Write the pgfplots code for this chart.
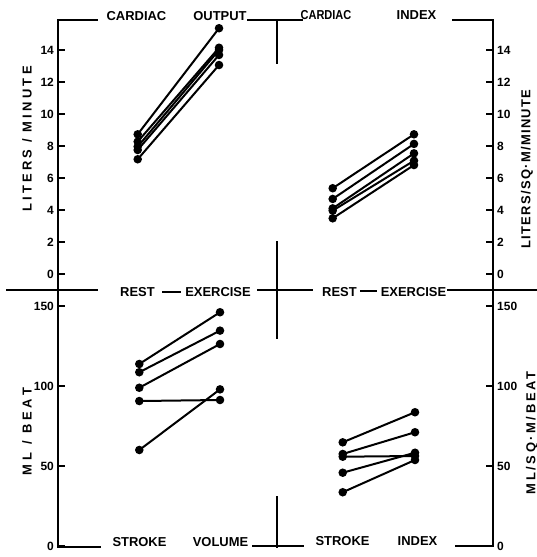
\documentclass[border=0pt]{standalone}
\usepackage{fontspec}
\setmainfont{Liberation Sans}
\usepackage{pgfplots}
\pgfplotsset{compat=1.18}
\newcommand{\lbl}{\bfseries\fontsize{13}{13}\selectfont}
\begin{document}
\begin{tikzpicture}[x=1bp,y=1bp]
\useasboundingbox (0,0) rectangle (537,557);
\pgfplotsset{
  panel/.style={scale only axis, anchor=south west, xtick=\empty,
    axis line style={draw=none}, major tick length=7bp,
    ytick style={line width=2.4bp, black},
    /pgf/number format/assume math mode=true,
    yticklabel style={font=\bfseries\fontsize{12}{12}\selectfont, inner sep=4bp},
    clip=false},
  subj/.style={black, line width=2bp, mark=*, mark size=3.2bp, mark options={solid}},
}
% ---- Cardiac output
\begin{axis}[panel, at={(58bp,267bp)}, width=219bp, height=270bp,
  xmin=-0.980, xmax=1.713, ymin=-1, ymax=15.875, ytick pos=left, ytick align=inside, ytick={0,2,...,14}]
\addplot[subj] coordinates {(0,8.73) (1,15.36)};
\addplot[subj] coordinates {(0,8.27) (1,14.14)};
\addplot[subj] coordinates {(0,7.96) (1,14.0)};
\addplot[subj] coordinates {(0,7.75) (1,13.69)};
\addplot[subj] coordinates {(0,7.17) (1,13.06)};
\end{axis}
% ---- Cardiac index
\begin{axis}[panel, at={(277bp,267bp)}, width=216bp, height=270bp,
  xmin=-0.685, xmax=1.972, ymin=-1, ymax=15.875, ytick pos=right, ytick align=inside, ytick={0,2,...,14}]
\addplot[subj] coordinates {(0,5.36) (1,8.73)};
\addplot[subj] coordinates {(0,4.69) (1,8.13)};
\addplot[subj] coordinates {(0,4.10) (1,7.54)};
\addplot[subj] coordinates {(0,3.96) (1,7.08)};
\addplot[subj] coordinates {(0,3.48) (1,6.81)};
\end{axis}
% ---- Stroke volume
\begin{axis}[panel, at={(58bp,11bp)}, width=219bp, height=256bp,
  xmin=-1.007, xmax=1.706, ymin=0, ymax=160, ytick pos=left, ytick align=inside, ytick={0,50,100,150}]
\addplot[subj] coordinates {(0,113.75) (1,146.1)};
\addplot[subj] coordinates {(0,108.6) (1,134.6)};
\addplot[subj] coordinates {(0,98.9) (1,126.25)};
\addplot[subj] coordinates {(0,90.6) (1,91.25)};
\addplot[subj] coordinates {(0,60.0) (1,97.9)};
\end{axis}
% ---- Stroke index
\begin{axis}[panel, at={(277bp,11bp)}, width=216bp, height=256bp,
  xmin=-0.909, xmax=2.079, ymin=0, ymax=160, ytick pos=right, ytick align=inside, ytick={0,50,100,150}]
\addplot[subj] coordinates {(0,64.8) (1,83.6)};
\addplot[subj] coordinates {(0,57.5) (1,71.1)};
\addplot[subj] coordinates {(0,55.8) (1,56.25)};
\addplot[subj] coordinates {(0,45.8) (1,58.3)};
\addplot[subj] coordinates {(0,33.6) (1,53.75)};
\end{axis}
% ---- frame lines
\begin{scope}[line width=2.6bp, line cap=rect]
\draw (58,537)--(97,537);
\draw (248,537)--(302,537);
\draw (453,537)--(493,537);
\draw (58,537)--(58,10);
\draw (493,537)--(493,11);
\draw (7,267)--(97,267);
\draw (258,267)--(312,267);
\draw (448,267)--(537,267);
\draw (163,265)--(180,265);
\draw (361,266)--(376,266);
\draw (277,537)--(277,494);
\draw (277,315)--(277,219);
\draw (277,60)--(277,10);
\draw (58,10)--(100,10);
\draw (253,11)--(303,11);
\draw (456,11)--(493,11);
\end{scope}
% ---- texts
\begin{scope}[every node/.style={inner sep=0pt, anchor=base, font=\lbl}]
\node at (136.5,536.3) {CARDIAC};
\node at (220,536.3) {OUTPUT};
\node[xscale=0.85] at (326,537.5) {CARDIAC};
\node at (416.5,537.5) {INDEX};
\node at (137.5,260) {REST};
\node at (218,260) {EXERCISE};
\node at (339.5,260) {REST};
\node at (413.5,260) {EXERCISE};
\node at (139.5,10.3) {STROKE};
\node at (220.5,10.3) {VOLUME};
\node at (342.5,11) {STROKE};
\node at (417.5,11) {INDEX};
\end{scope}
\begin{scope}[every node/.style={inner sep=0pt, anchor=center, rotate=90}]
\node at (27,418) {\lbl\addfontfeature{LetterSpace=25}LITERS / MINUTE};
\node at (27,125.5) {\lbl\addfontfeature{LetterSpace=30}ML / BEAT};
\node at (527,388) {\lbl\addfontfeature{LetterSpace=10}LITERS/SQ·M/MINUTE};
\node at (532,124) {\lbl\addfontfeature{LetterSpace=20}ML/SQ·M/BEAT};
\end{scope}
\end{tikzpicture}
\end{document}
